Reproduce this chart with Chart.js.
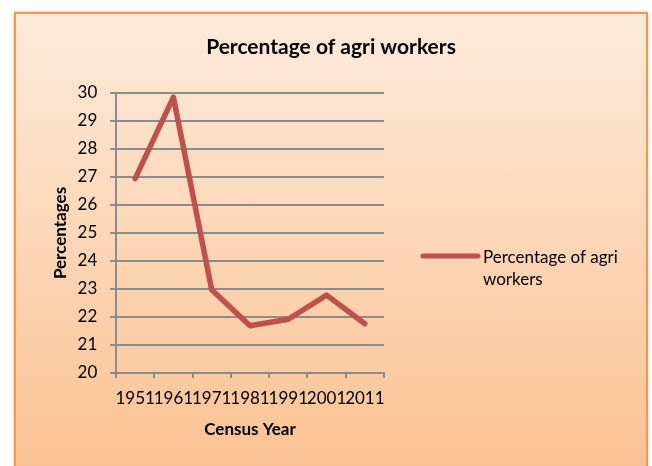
<!DOCTYPE html>
<html><head><meta charset="utf-8">
<script src="https://cdn.jsdelivr.net/npm/chart.js@4.4.0/dist/chart.umd.min.js"></script>
<style>
html,body{margin:0;padding:0;background:#fff;width:652px;height:466px;overflow:hidden;}
#frame{position:absolute;left:14px;top:12px;width:630px;height:480px;border:2px solid #F79646;background:linear-gradient(to bottom,#FDEADA 0%,#FAC08F 100%);box-shadow:0 0 3px rgba(0,0,0,0.25);}
#c{position:absolute;left:0;top:0;}
</style></head><body>
<div id="frame"></div>
<canvas id="c" width="652" height="466"></canvas>
<script>
// ---- data ----
const categories = ['1951', '1961', '1971', '1981', '1991', '2001', '2011'];
const agriWorkers = [26.94, 29.85, 22.97, 21.69, 21.92, 22.78, 21.76];
const yTickMin = 20;
const yTickMax = 30;
const yTickStep = 1;
const seriesName = 'Percentage of agri workers';
const chartTitle = 'Percentage of agri workers';
const xAxisTitle = 'Census Year';
const yAxisTitle = 'Percentages';

// ---- style ----
const FONT = 'Lato, "Open Sans", sans-serif';
const GRID = '#8c8c8c';
const LINE = '#C0504D';

const sideLegend = {
  id: 'sideLegend',
  beforeInit(chart) {
    const box = {
      position: 'right', weight: 1000, fullSize: false,
      options: { stackWeight: 1 },
      left: 0, top: 0, right: 0, bottom: 0, width: 0, height: 0,
      isHorizontal() { return false; },
      update(maxW, maxH) { this.width = 264; this.height = maxH; },
      draw() {
        const ctx = chart.ctx;
        const ca = chart.chartArea;
        const ds = chart.data.datasets[0];
        const x0 = ca.right + 39, x1 = ca.right + 94, y = ca.top + 163;
        ctx.save();
        ctx.strokeStyle = ds.borderColor;
        ctx.lineWidth = 5;
        ctx.lineCap = 'round';
        ctx.beginPath(); ctx.moveTo(x0, y); ctx.lineTo(x1, y); ctx.stroke();
        ctx.fillStyle = '#000';
        ctx.font = '17px ' + FONT;
        ctx.textBaseline = 'middle';
        ctx.textAlign = 'left';
        const words = ds.label.split(' ');
        const lines = []; let cur = '';
        words.forEach(w => {
          const t = cur ? cur + ' ' + w : w;
          if (ctx.measureText(t).width > 160 && cur) { lines.push(cur); cur = w; } else cur = t;
        });
        if (cur) lines.push(cur);
        lines.forEach((l, i) => ctx.fillText(l, ca.right + 99, y + 2 + i * 22));
        ctx.restore();
      }
    };
    Chart.layouts.addBox(chart, box);
  }
};

new Chart(document.getElementById('c'), {
  type: 'line',
  data: {
    labels: categories,
    datasets: [{
      label: seriesName,
      data: agriWorkers,
      borderColor: LINE,
      backgroundColor: LINE,
      borderWidth: 5.5,
      pointRadius: 0,
      pointHoverRadius: 0,
      tension: 0,
      borderJoinStyle: 'round',
      borderCapStyle: 'round',
      fill: false
    }]
  },
  plugins: [sideLegend],
  options: {
    responsive: false,
    animation: false,
    devicePixelRatio: 1,
    layout: { padding: { left: 14, right: 4, top: 0, bottom: 0 } },
    plugins: {
      legend: { display: false },
      tooltip: { enabled: false },
      title: {
        display: true,
        text: chartTitle,
        color: '#000',
        font: { family: FONT, size: 21, weight: 'bold', lineHeight: 1.2 },
        padding: { top: 34.4, bottom: 33.4 }
      }
    },
    scales: {
      x: {
        type: 'category',
        offset: true,
        grid: { display: true, offset: true, drawOnChartArea: false, drawTicks: true, tickLength: 5, color: GRID, lineWidth: 2 },
        border: { display: true, color: GRID, width: 2 },
        ticks: { color: '#000', font: { family: FONT, size: 17 }, padding: 10.3, autoSkip: false, maxRotation: 0, minRotation: 0 },
        title: { display: true, text: xAxisTitle, color: '#000', font: { family: FONT, size: 17, weight: 'bold', lineHeight: 1.2 }, padding: { top: 0, bottom: 26.3 } },
        afterFit(s) { s.height = 93; }
      },
      y: {
        min: yTickMin,
        max: yTickMax,
        grid: { color: GRID, lineWidth: 2, drawTicks: true, tickLength: 6 },
        border: { display: true, color: GRID, width: 2 },
        ticks: { stepSize: yTickStep, color: '#000', font: { family: FONT, size: 17 }, padding: 12.7 },
        title: { display: true, text: yAxisTitle, color: '#000', font: { family: FONT, size: 17, weight: 'bold', lineHeight: 1.2 }, padding: { top: 36.8, bottom: 0 } },
        afterFit(s) { s.width = 102; }
      }
    }
  }
});
</script>
</body></html>
